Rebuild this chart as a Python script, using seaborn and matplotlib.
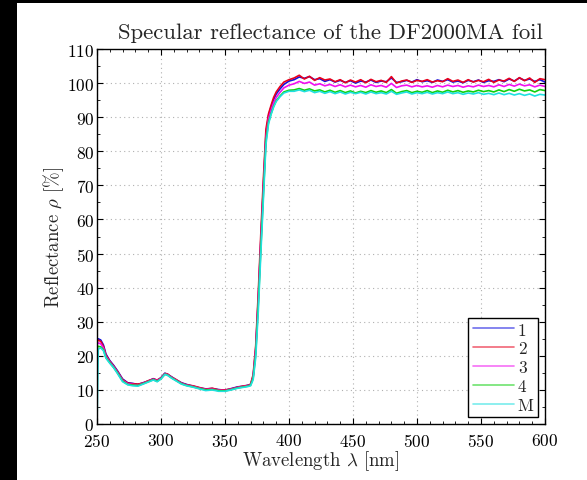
import numpy as np
import pandas as pd
import matplotlib
matplotlib.use("Agg")
import matplotlib.pyplot as plt
from matplotlib.patches import Rectangle
from matplotlib.ticker import MultipleLocator
import seaborn as sns

# ---------------- data ----------------
wl_low = [250, 251, 253, 255, 257, 260, 263, 266, 270, 274, 278, 282, 286, 290,
          294, 297, 300, 303, 305, 308, 312, 316, 320, 325, 330, 335, 340, 345,
          350, 355, 360, 365, 368, 370, 372, 374, 376, 378, 380, 382, 384, 386,
          388, 390, 393, 396, 400]
wl_high = list(range(404, 601, 4))
wavelength = wl_low + wl_high

s1_low = [24.5, 25.0, 24.6, 23.2, 20.5, 18.6, 17.2, 15.6, 13.2, 12.1, 11.9, 11.6, 12.1, 12.6,
          13.3, 12.8, 13.6, 14.9, 14.6, 13.9, 12.9, 12.1, 11.6, 11.1, 10.6, 10.3, 10.4, 10.1,
          9.9, 10.4, 10.9, 11.1, 11.4, 11.6, 14.0, 22.0, 37.0, 54.0, 70.0, 85.0, 90.5, 93.0,
          95.2, 96.8, 98.3, 99.6, 100.6]
s1_high = [101.0, 101.8, 101.4, 101.9, 101.0, 101.3, 100.5, 101.0, 100.3, 100.8, 100.2, 100.7,
           100.0, 100.6, 100.3, 100.9, 100.2, 100.6, 100.4, 101.5, 100.2, 100.4, 100.8, 100.3,
           101.0, 100.4, 100.7, 100.2, 100.9, 100.5, 101.0, 100.3, 100.6, 100.1, 100.8, 100.4,
           100.9, 100.2, 100.7, 100.5, 101.0, 100.4, 101.2, 100.6, 101.5, 100.8, 101.2, 100.5,
           101.0, 100.3]

s2_low = [24.0, 24.6, 24.2, 22.8, 20.2, 18.4, 17.0, 15.4, 13.0, 12.0, 11.8, 11.7, 12.0, 12.7,
          13.2, 12.9, 13.5, 14.8, 14.7, 13.8, 13.0, 12.0, 11.5, 11.2, 10.7, 10.2, 10.5, 10.0,
          10.0, 10.3, 10.8, 11.2, 11.3, 11.7, 14.5, 23.0, 38.5, 56.0, 72.0, 86.5, 91.0, 93.5,
          95.8, 97.4, 99.0, 100.3, 101.0]
s2_high = [101.5, 102.3, 101.2, 102.0, 100.8, 101.6, 100.9, 101.2, 100.4, 101.0, 100.1, 100.9,
           100.3, 101.0, 100.1, 101.1, 100.4, 100.8, 100.2, 101.9, 100.0, 100.6, 100.9, 100.2,
           100.8, 100.5, 101.0, 100.3, 100.7, 100.4, 101.3, 100.5, 100.9, 100.2, 101.0, 100.3,
           100.8, 100.4, 101.1, 100.2, 100.9, 100.6, 101.4, 100.5, 101.6, 100.7, 101.5, 100.2,
           101.3, 101.0]

s3_low = [23.2, 23.8, 23.5, 22.3, 19.8, 18.2, 16.8, 15.2, 12.8, 11.8, 11.6, 11.4, 11.9, 12.5,
          13.1, 12.7, 13.4, 14.7, 14.5, 13.7, 12.8, 11.9, 11.4, 11.0, 10.5, 10.1, 10.2, 9.9,
          9.8, 10.2, 10.7, 11.0, 11.2, 11.5, 13.8, 21.5, 36.0, 53.0, 69.0, 84.0, 89.5, 92.0,
          94.2, 95.8, 97.3, 98.6, 99.4]
s3_high = [99.8, 100.5, 99.9, 100.3, 99.4, 99.8, 99.2, 99.6, 99.0, 99.5, 98.9, 99.4,
           98.9, 99.3, 98.8, 99.5, 99.0, 99.3, 98.8, 99.9, 98.7, 99.2, 99.4, 98.9,
           99.3, 98.9, 99.2, 98.8, 99.3, 98.9, 99.4, 99.0, 99.3, 98.8, 99.2, 98.9,
           99.4, 99.0, 99.3, 98.9, 99.5, 99.0, 99.6, 99.1, 99.7, 99.2, 99.5, 98.9,
           99.4, 99.0]

s4_low = [22.2, 22.8, 22.6, 21.8, 19.5, 18.0, 16.6, 15.0, 12.6, 11.6, 11.4, 11.3, 11.8, 12.4,
          13.0, 12.5, 13.3, 14.6, 14.4, 13.6, 12.7, 11.8, 11.3, 10.9, 10.4, 10.0, 10.1, 9.8,
          9.7, 10.1, 10.6, 10.9, 11.1, 11.4, 13.5, 20.5, 35.0, 51.5, 67.5, 83.0, 88.5, 91.0,
          93.2, 94.8, 96.2, 97.4, 97.9]
s4_high = [98.0, 98.4, 97.9, 98.3, 97.7, 98.0, 97.4, 97.9, 97.3, 97.8, 97.2, 97.7,
           97.1, 97.6, 97.2, 97.8, 97.3, 97.7, 97.2, 98.1, 97.0, 97.5, 97.8, 97.2,
           97.6, 97.3, 97.8, 97.2, 97.7, 97.3, 97.9, 97.4, 97.8, 97.3, 97.7, 97.4,
           97.9, 97.5, 97.8, 97.4, 98.0, 97.5, 98.1, 97.6, 98.2, 97.7, 98.0, 97.4,
           98.1, 97.8]

m_low = [0.0, 22.0, 22.3, 21.5, 19.3, 17.8, 16.5, 14.8, 12.4, 11.5, 11.2, 11.1, 11.7, 12.3,
         12.9, 12.4, 13.2, 14.5, 14.3, 13.5, 12.6, 11.7, 11.2, 10.8, 10.3, 9.8, 10.0, 9.6,
         9.6, 10.0, 10.5, 10.8, 11.0, 11.2, 13.0, 19.5, 33.0, 50.0, 66.0, 82.0, 88.0, 90.8,
         93.0, 94.6, 96.0, 97.1, 97.6]
m_high = [97.6, 98.0, 97.5, 97.9, 97.2, 97.6, 97.0, 97.5, 96.9, 97.4, 96.8, 97.3,
          96.9, 97.3, 96.8, 97.4, 96.9, 97.2, 96.8, 97.6, 96.7, 97.1, 97.4, 96.8,
          97.2, 96.9, 97.3, 96.8, 97.2, 96.9, 97.4, 96.9, 97.2, 96.7, 97.1, 96.8,
          97.2, 96.7, 97.0, 96.6, 97.1, 96.6, 97.0, 96.5, 96.9, 96.4, 96.8, 96.2,
          96.7, 96.5]

series_names = ["1", "2", "3", "4", "M"]
series_values = [s1_low + s1_high, s2_low + s2_high, s3_low + s3_high,
                 s4_low + s4_high, m_low + m_high]
series_colors = ["#1010e0", "#e8001c", "#f010f0", "#10d010", "#20e0e0"]

frames = []
for name, vals in zip(series_names, series_values):
    frames.append(pd.DataFrame({"wavelength": wavelength, "reflectance": vals,
                                "series": name}))
df = pd.concat(frames, ignore_index=True)

# ---------------- styling ----------------
sns.set_theme(style="white")
plt.rcParams["font.family"] = ["cmr10", "DejaVu Serif"]
plt.rcParams["mathtext.fontset"] = "cm"
plt.rcParams["axes.formatter.use_mathtext"] = True

fig = plt.figure(figsize=(5.87, 4.81), dpi=100, facecolor="white")
ax = fig.add_axes([97 / 587, 1 - 425 / 481, (545 - 97) / 587, (425 - 50) / 481])

sns.lineplot(data=df, x="wavelength", y="reflectance", hue="series",
             palette=dict(zip(series_names, series_colors)), estimator=None,
             linewidth=1.2, ax=ax, legend=True)

ax.set_xlim(250, 600)
ax.set_ylim(0, 110)
ax.xaxis.set_major_locator(MultipleLocator(50))
ax.xaxis.set_minor_locator(MultipleLocator(10))
ax.yaxis.set_major_locator(MultipleLocator(10))
ax.yaxis.set_minor_locator(MultipleLocator(5))
ax.tick_params(which="both", direction="in", top=True, right=True,
               bottom=True, left=True, colors="black", labelsize=12.5)
ax.tick_params(axis="y", pad=2)
ax.tick_params(axis="x", pad=6)
ax.tick_params(which="major", length=4, width=0.8)
ax.tick_params(which="minor", length=2, width=0.6)
ax.grid(True, which="major", linestyle=(0, (1, 3)), color="#b0b0b0", linewidth=0.8)
for sp in ax.spines.values():
    sp.set_color("black")
    sp.set_linewidth(1.0)

ax.set_xlabel(r"Wavelength $\lambda$ [nm]", fontsize=13.5, labelpad=-1)
ax.set_ylabel(r"Reflectance $\rho$ [%]", fontsize=13.5, labelpad=1)
ax.set_title("Specular reflectance of the DF2000MA foil", fontsize=16.4, pad=8, x=0.522)

handles, labels = ax.get_legend_handles_labels()
for h in handles:
    h.set_alpha(0.6)
leg = ax.legend(handles, labels, loc="lower right", fontsize=12.5, frameon=True,
                fancybox=False, edgecolor="black", framealpha=1, handlelength=2.4,
                handletextpad=0.2, borderpad=0.25, labelspacing=0.2,
                bbox_to_anchor=(1.0, 0.0), borderaxespad=0.4)
leg.get_frame().set_linewidth(1.0)

# black border strips of the screenshot
fig.patches.append(Rectangle((0, 0), 17 / 587, 1, transform=fig.transFigure,
                             facecolor="black", edgecolor="none", zorder=-1))
fig.patches.append(Rectangle((0, 1 - 4 / 481), 1, 4 / 481, transform=fig.transFigure,
                             facecolor="black", edgecolor="none", zorder=-1))

fig.savefig("out.png", dpi=100, facecolor="white")
